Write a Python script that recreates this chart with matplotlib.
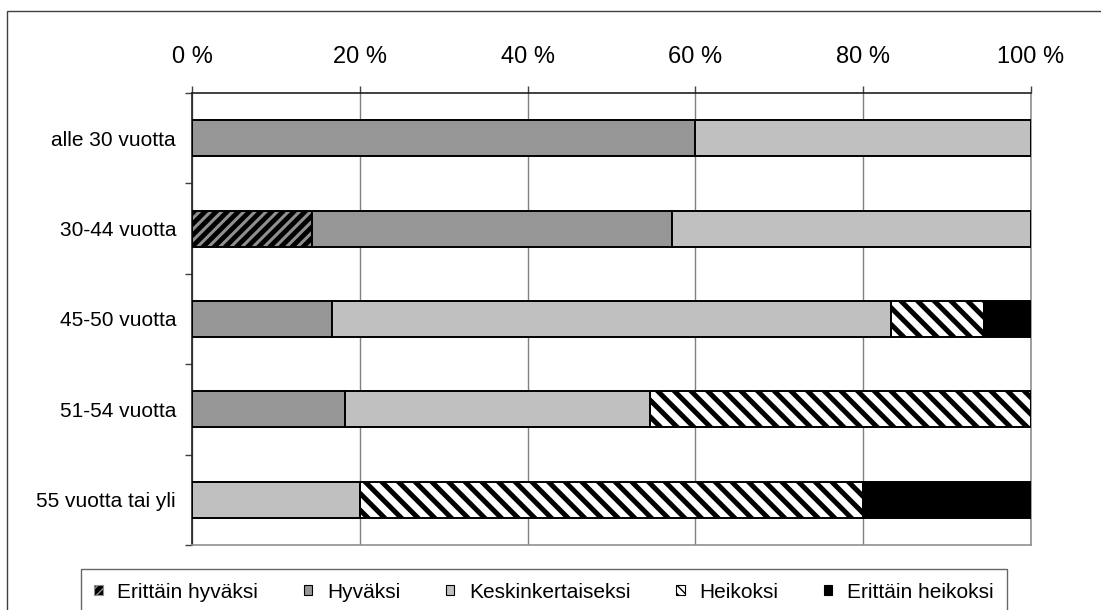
import numpy as np
import matplotlib
matplotlib.use('Agg')
import matplotlib.pyplot as plt
from matplotlib.patches import Rectangle, Patch

plt.rcParams['font.family'] = ['Liberation Sans', 'DejaVu Sans']

groups = ["alle 30 vuotta", "30-44 vuotta", "45-50 vuotta", "51-54 vuotta", "55 vuotta tai yli"]
series = ["Erittäin hyväksi", "Hyväksi", "Keskinkertaiseksi", "Heikoksi", "Erittäin heikoksi"]

# percentage shares per age group, in series order
erittain_hyvaksi  = [0.0, 14.3, 0.0, 0.0, 0.0]
hyvaksi           = [60.0, 42.9, 16.7, 18.2, 0.0]
keskinkertaiseksi = [40.0, 42.8, 66.6, 36.4, 20.0]
heikoksi          = [0.0, 0.0, 11.1, 45.4, 60.0]
erittain_heikoksi = [0.0, 0.0, 5.6, 0.0, 20.0]

xticks = [0, 20, 40, 60, 80, 100]

values = [erittain_hyvaksi, hyvaksi, keskinkertaiseksi, heikoksi, erittain_heikoksi]
# (face, hatch, hatch colour, hatch linewidth)
styles = [
    ("black", "///", "#909090", 2.2),
    ("#969696", None, None, None),
    ("#c0c0c0", None, None, None),
    ("white", "\\\\", "black", 3.6),
    ("black", None, None, None),
]

fig = plt.figure(figsize=(11.01, 6.10), dpi=100)
ax = fig.add_axes([192/1101, 1-545/610, (1031-192)/1101, (545-93)/610])

ypos = np.arange(len(groups)) + 0.5
left = np.zeros(len(groups))
handles = []
for vals, (face, hatch, hcol, hlw), name in zip(values, styles, series):
    vals = np.array(vals)
    if hatch:
        with plt.rc_context({'hatch.linewidth': hlw}):
            ax.barh(ypos, vals, left=left, height=0.4, color=face, hatch=hatch,
                    edgecolor=hcol, linewidth=0, zorder=2)
        ax.barh(ypos, vals, left=left, height=0.4, fill=False,
                edgecolor="black", linewidth=1.4, zorder=3)
        with plt.rc_context({'hatch.linewidth': 2.0}):
            handles.append(Patch(facecolor=face, hatch=hatch[0] * 4,
                                 edgecolor="black" if face == "white" else "#8c8c8c",
                                 linewidth=0.8, label=name))
    else:
        ax.barh(ypos, vals, left=left, height=0.4, color=face,
                edgecolor="black", linewidth=1.4, zorder=3)
        handles.append(Patch(facecolor=face, edgecolor="black", linewidth=0.8, label=name))
    left += vals

ax.set_xlim(0, 100)
ax.set_ylim(len(groups), 0)

ax.xaxis.tick_top()
ax.set_xticks(xticks)
ax.set_xticklabels([f"{t} %" for t in xticks], fontsize=17)
ax.tick_params(axis='x', direction='out', length=5, width=1, color='#404040', pad=13)
ax.grid(axis='x', color='#808080', linewidth=1, zorder=0)

ax.set_yticks(ypos)
ax.set_yticklabels(groups, fontsize=15)
ax.tick_params(axis='y', which='major', length=0, pad=11.5)
ax.set_yticks(np.arange(len(groups) + 1), minor=True)
ax.tick_params(axis='y', which='minor', direction='out', length=5, width=1, color='#404040')

for side in ['top', 'left']:
    ax.spines[side].set_color('#202020')
    ax.spines[side].set_linewidth(1.2)
for side in ['right', 'bottom']:
    ax.spines[side].set_color('#909090')
    ax.spines[side].set_linewidth(1.2)

# outer chart border
fig.patches.append(Rectangle((7/1101, -0.05), 1.1, 1 - 11/610 + 0.05,
                             transform=fig.transFigure, fill=False,
                             edgecolor='#404040', linewidth=1, clip_on=False))

leg = fig.legend(handles=handles, loc='upper center', ncol=5,
                 bbox_to_anchor=(544/1101, 1-569/610),
                 frameon=True, fancybox=False, edgecolor='#404040', fontsize=15,
                 handlelength=0.4, handleheight=0.4, handletextpad=0.7,
                 borderpad=0.65, borderaxespad=0, columnspacing=2.2)
leg.get_frame().set_linewidth(1)

fig.savefig("out.png", dpi=100)
